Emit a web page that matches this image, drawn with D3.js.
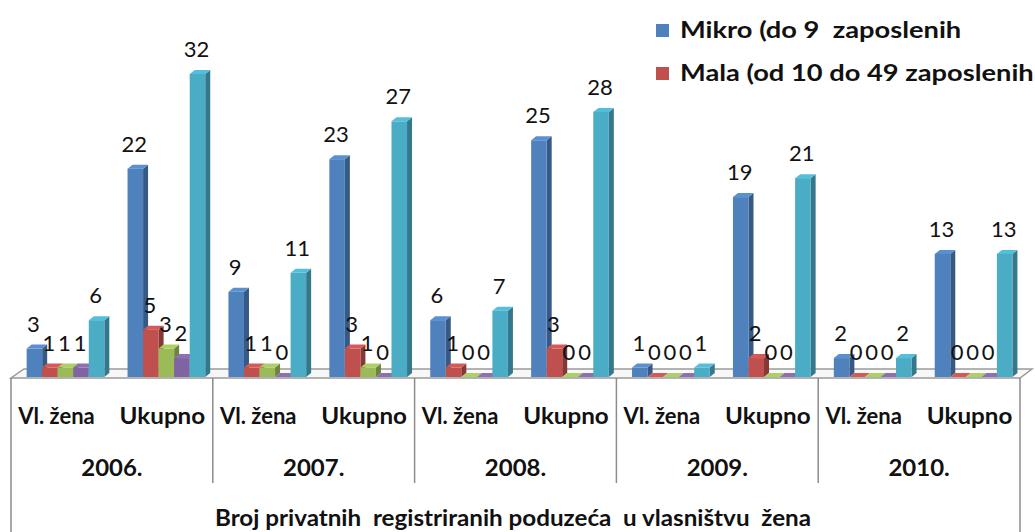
<!DOCTYPE html>
<html>
<head>
<meta charset="utf-8">
<script src="https://cdn.jsdelivr.net/npm/d3@7"></script>
<style>
  html, body { margin: 0; padding: 0; background: #fff; }
  svg { display: block; }
  text { white-space: pre; }
</style>
</head>
<body>
<svg id="chart" width="1035" height="532"></svg>
<script>
// data
const years = ['2006.', '2007.', '2008.', '2009.', '2010.']
const owners = ['Vl. žena', 'Ukupno']
const seriesNames = [
  'Mikro (do 9  zaposlenih',
  'Mala (od 10 do 49 zaposlenih',
  'Srednja (od 50 do 249 zaposlenih',
  'Velika (250 i više zaposlenih',
  'Ukupno'
]
// values listed year by year: [Vl. žena, Ukupno]
const mikro = [3, 22, 9, 23, 6, 25, 1, 19, 2, 13]
const mala = [1, 5, 1, 3, 1, 3, 0, 2, 0, 0]
const srednja = [1, 3, 1, 1, 0, 0, 0, 0, 0, 0]
const velika = [1, 2, 0, 0, 0, 0, 0, 0, 0, 0]
const ukupno = [6, 32, 11, 27, 7, 28, 1, 21, 2, 13]
const axisTitle = 'Broj privatnih  registriranih poduzeća  u vlasništvu  žena'

const seriesValues = [mikro, mala, srednja, velika, ukupno]
const colors = ['#4f81bd', '#c0504d', '#9bbb59', '#8064a2', '#4bacc6']

const width = 1035
const height = 532
const left = 11
const right = 1020
const base = 377
const depth = { x: 5, y: 4 }
const floorDepth = { x: 12, y: 9 }
const fontFamily = 'Lato, "Open Sans", sans-serif'

const rows = years.flatMap((year, i) =>
  owners.map((owner, j) => ({
    year,
    owner,
    values: seriesValues.map((s, k) => ({ key: k, value: s[i * 2 + j] })),
  }))
)

const x0 = d3.scaleBand().domain(years).range([left, right])
const x1 = d3.scaleBand().domain(owners).range([0, x0.bandwidth()])
const x2 = d3
  .scaleBand()
  .domain(d3.range(seriesNames.length))
  .range([x1.bandwidth() * 0.155, x1.bandwidth() * 0.925])
const y = d3.scaleLinear().domain([0, 32]).range([base, 74])

const svg = d3.select('#chart')

svg
  .append('rect')
  .attr('width', width)
  .attr('height', height)
  .attr('fill', '#fff')

// floor
svg
  .append('path')
  .attr('id', 'floor')
  .attr(
    'd',
    `M${left},${base + 1}L${right},${base + 1}L${right + floorDepth.x},${
      base + 1 - floorDepth.y
    }L${left + floorDepth.x + 1},${base + 1 - floorDepth.y}Z`
  )
  .attr('fill', '#f7f7f7')
  .attr('stroke', '#9a9a9a')
  .attr('stroke-width', 1.5)

// bars
const shade = (c, k) => d3.color(c).darker(k).formatHex()
const light = (c, k) => d3.color(c).brighter(k).formatHex()

const groups = svg
  .append('g')
  .attr('id', 'bars')
  .selectAll('g')
  .data(rows)
  .join('g')
  .attr('transform', (d) => `translate(${x0(d.year) + x1(d.owner)},0)`)

groups.each(function (row) {
  const g = d3.select(this)
  const w = x2.bandwidth()
  row.values.forEach((v) => {
    const bx = x2(v.key)
    const top = y(v.value)
    const c = colors[v.key]
    // side face
    g.append('path')
      .attr(
        'd',
        `M${bx + w},${top}L${bx + w + depth.x},${top - depth.y}L${
          bx + w + depth.x
        },${base - depth.y}L${bx + w},${base}Z`
      )
      .attr('fill', shade(c, 1))
    // top face
    g.append('path')
      .attr(
        'd',
        `M${bx},${top}L${bx + depth.x},${top - depth.y}L${
          bx + w + depth.x
        },${top - depth.y}L${bx + w},${top}Z`
      )
      .attr('fill', light(c, 0.3))
    // front face
    g.append('rect')
      .attr('x', bx)
      .attr('y', top)
      .attr('width', w)
      .attr('height', base - top)
      .attr('fill', c)
  })
})

// value labels
groups.each(function (row) {
  d3.select(this)
    .selectAll('text.val')
    .data(row.values)
    .join('text')
    .attr('class', 'val')
    .attr('x', (v) => x2(v.key) + x2.bandwidth() / 2 - 1)
    .attr('y', (v) => y(v.value) - 17)
    .attr('text-anchor', 'middle')
    .attr('font-family', fontFamily)
    .attr('font-size', 22)
    .attr('fill', '#111')
    .text((v) => v.value)
})

// table under the chart
const table = svg.append('g').attr('id', 'table')
const gridColor = '#8c8c8c'

table
  .append('path')
  .attr('d', `M${left},${base + 1}V${height}M${right},${base + 1}V${height}`)
  .attr('stroke', gridColor)
  .attr('stroke-width', 1.5)
  .attr('fill', 'none')

table
  .selectAll('line.div')
  .data(years.slice(1))
  .join('line')
  .attr('class', 'div')
  .attr('x1', (d) => x0(d))
  .attr('x2', (d) => x0(d))
  .attr('y1', base + 1)
  .attr('y2', 483)
  .attr('stroke', gridColor)
  .attr('stroke-width', 1.5)

// the reference text is a little stretched horizontally
const stretched = (sel, sx) =>
  sel
    .attr('text-anchor', 'middle')
    .attr('font-family', fontFamily)
    .attr('font-weight', 'bold')
    .attr('font-size', 22)
    .attr('fill', '#111')

table
  .selectAll('text.owner')
  .data(rows)
  .join('text')
  .attr('class', 'owner')
  .attr('transform', (d) => {
    const cx = x0(d.year) + x1(d.owner) + x1.bandwidth() / 2 + (d.owner === owners[0] ? -5 : 0)
    return `translate(${cx},424) scale(${d.owner === owners[0] ? 1 : 1.1},1)`
  })
  .call(stretched)
  .text((d) => d.owner)

table
  .selectAll('text.year')
  .data(years)
  .join('text')
  .attr('class', 'year')
  .attr('transform', (d) => `translate(${x0(d) + x0.bandwidth() / 2},476) scale(1.09,1)`)
  .call(stretched)
  .text((d) => d)

table
  .append('text')
  .attr('transform', 'translate(513,526) scale(1.1,1)')
  .call(stretched)
  .text(axisTitle)

// legend (only the first two entries are visible in the frame)
const legend = svg
  .append('g')
  .attr('id', 'legend')
  .selectAll('g')
  .data(seriesNames.slice(0, 2))
  .join('g')
  .attr('transform', (d, i) => `translate(656,${30 + i * 43})`)

legend
  .append('rect')
  .attr('x', 0)
  .attr('y', -6)
  .attr('width', 13)
  .attr('height', 13)
  .attr('fill', (d, i) => colors[i])

legend
  .append('text')
  .attr('transform', 'translate(24,0) scale(1.24,1)')
  .attr('dy', '0.35em')
  .attr('font-family', fontFamily)
  .attr('font-weight', 'bold')
  .attr('font-size', 22)
  .attr('fill', '#111')
  .text((d) => d)
</script>
</body>
</html>
